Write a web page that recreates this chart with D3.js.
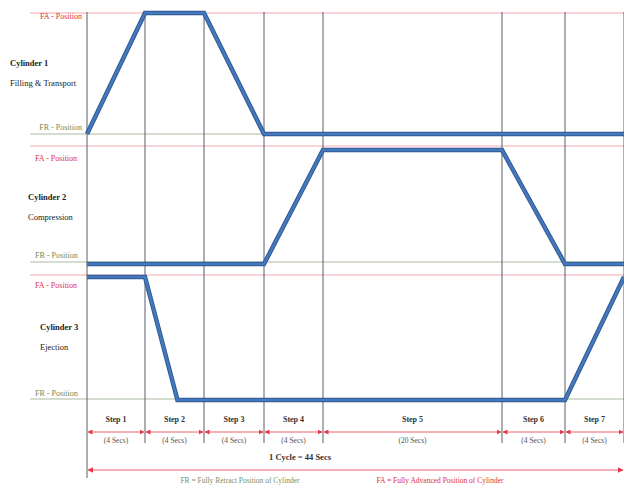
<!DOCTYPE html>
<html><head><meta charset="utf-8">
<script src="https://cdn.jsdelivr.net/npm/d3@7"></script>
<style>html,body{margin:0;padding:0;background:#fff;}svg{display:block;font-family:"Liberation Serif","Times New Roman",serif;}</style>
</head><body><svg id="c" width="624" height="486"></svg>
<script>
// ---- data ----
const steps = ["Step 1","Step 2","Step 3","Step 4","Step 5","Step 6","Step 7"];
const durations = [4,4,4,4,20,4,4];            // seconds
const durationLabels = ["(4 Secs)","(4 Secs)","(4 Secs)","(4 Secs)","(20 Secs)","(4 Secs)","(4 Secs)"];
const cycleLabel = "1 Cycle = 44 Secs";
const cylinderNames = ["Cylinder 1","Cylinder 2","Cylinder 3"];
const cylinderRoles = ["Filling & Transport","Compression","Ejection"];
// position over time: 1 = FA (fully advanced), 0 = FR (fully retracted)
const cyl1 = [[0,0],[4,1],[8,1],[12,0],[44,0]];
const cyl2 = [[0,0],[12,0],[16,1],[36,1],[40,0],[44,0]];
const cyl3 = [[0,1],[4,1],[6.2,0],[40,0],[44,1]];
const cylinders = [cyl1, cyl2, cyl3];
const legendFR = "FR = Fully Retract Position of Cylinder";
const legendFA = "FA = Fully Advanced Position of Cylinder";

// ---- layout ----
const svg = d3.select("#c");
const bounds = [0];
durations.forEach((d,i)=>bounds.push(bounds[i]+d));
// the drawing is not proportional in time: step 5 is drawn 3 steps wide
const x = d3.scaleLinear().domain(bounds).range([87,145,204,264,323,502,565,624]);
const panels = [
  {fa:13, fr:134, faLine:13, frLine:134, nameX:10, nameY:66, faT:[82,"end",19], frT:[82,"end",130]},
  {fa:150, fr:264, faLine:146, frLine:262, nameX:28, nameY:200, faT:[35,"start",161], frT:[35,"start",258]},
  {fa:277, fr:400, faLine:275, frLine:399, nameX:40, nameY:330, faT:[35,"start",288], frT:[35,"start",396]}
];

// horizontal reference lines
panels.forEach(p=>{
  svg.append("line").attr("x1",30).attr("x2",624).attr("y1",p.faLine).attr("y2",p.faLine)
    .attr("stroke","#f4a8b0").attr("stroke-width",1.2);
  svg.append("line").attr("x1",30).attr("x2",624).attr("y1",p.frLine).attr("y2",p.frLine)
    .attr("stroke","#a9bba0").attr("stroke-width",1.2);
});

// vertical step boundaries
bounds.forEach((b,i)=>{
  svg.append("line").attr("x1",x(b)).attr("x2",x(b)).attr("y1",12).attr("y2", i===0?478:443)
    .attr("stroke","#5a5f6a").attr("stroke-width",1);
});

// cylinder traces
cylinders.forEach((c,i)=>{
  const p = panels[i];
  const y = d3.scaleLinear().domain([0,1]).range([p.fr,p.fa]);
  const line = d3.line().x(d=>x(d[0])).y(d=>y(d[1]));
  svg.append("path").attr("d",line(c)).attr("fill","none")
    .attr("stroke","#2f5a94").attr("stroke-width",4.5).attr("stroke-linejoin","miter");
  svg.append("path").attr("d",line(c)).attr("fill","none")
    .attr("stroke","#4479bd").attr("stroke-width",2.5).attr("stroke-linejoin","miter");
});

// left labels
panels.forEach((p,i)=>{
  svg.append("text").attr("x",p.nameX).attr("y",p.nameY).attr("font-size",8.5).attr("font-weight","bold")
    .attr("fill","#222").text(cylinderNames[i]);
  svg.append("text").attr("x",p.nameX).attr("y",p.nameY+20).attr("font-size",8.5)
    .attr("fill","#222").text(cylinderRoles[i]);
  svg.append("text").attr("x",p.faT[0]).attr("y",p.faT[2]).attr("text-anchor",p.faT[1]).attr("font-size",8)
    .attr("fill","#e0303c").text("FA - Position");
  svg.append("text").attr("x",p.frT[0]).attr("y",p.frT[2]).attr("text-anchor",p.frT[1]).attr("font-size",8)
    .attr("fill","#6f8a5a").text("FR - Position");
});

// arrow markers
const defs = svg.append("defs");
defs.append("marker").attr("id","ah").attr("viewBox","0 0 10 10").attr("refX",9).attr("refY",5)
  .attr("markerWidth",5).attr("markerHeight",5).attr("orient","auto-start-reverse")
  .append("path").attr("d","M0,0L10,5L0,10z").attr("fill","#e83848");

// step labels & dimension lines
steps.forEach((s,i)=>{
  const x0 = x(bounds[i]), x1 = x(bounds[i+1]), cx=(x0+x1)/2;
  svg.append("text").attr("x",cx).attr("y",422).attr("text-anchor","middle").attr("font-size",8)
    .attr("font-weight","bold").attr("fill","#333").text(s);
  svg.append("line").attr("x1",x0+1).attr("x2",x1-1).attr("y1",432).attr("y2",432)
    .attr("stroke","#ee6070").attr("stroke-width",1)
    .attr("marker-start","url(#ah)").attr("marker-end","url(#ah)");
  svg.append("text").attr("x",cx).attr("y",443).attr("text-anchor","middle").attr("font-size",7.5)
    .attr("fill","#555").text(durationLabels[i]);
});

// cycle
svg.append("text").attr("x",300).attr("y",460).attr("text-anchor","middle").attr("font-size",8.5)
  .attr("font-weight","bold").attr("fill","#333").text(cycleLabel);
svg.append("line").attr("x1",x(0)+1).attr("x2",623).attr("y1",470).attr("y2",470)
  .attr("stroke","#ee6070").attr("stroke-width",1.2)
  .attr("marker-start","url(#ah)").attr("marker-end","url(#ah)");

// legend
svg.append("text").attr("x",240).attr("y",483).attr("text-anchor","middle").attr("font-size",7.5)
  .attr("fill","#7a8f6a").text(legendFR);
svg.append("text").attr("x",440).attr("y",483).attr("text-anchor","middle").attr("font-size",7.5)
  .attr("fill","#e0303c").text(legendFA);
</script></body></html>
